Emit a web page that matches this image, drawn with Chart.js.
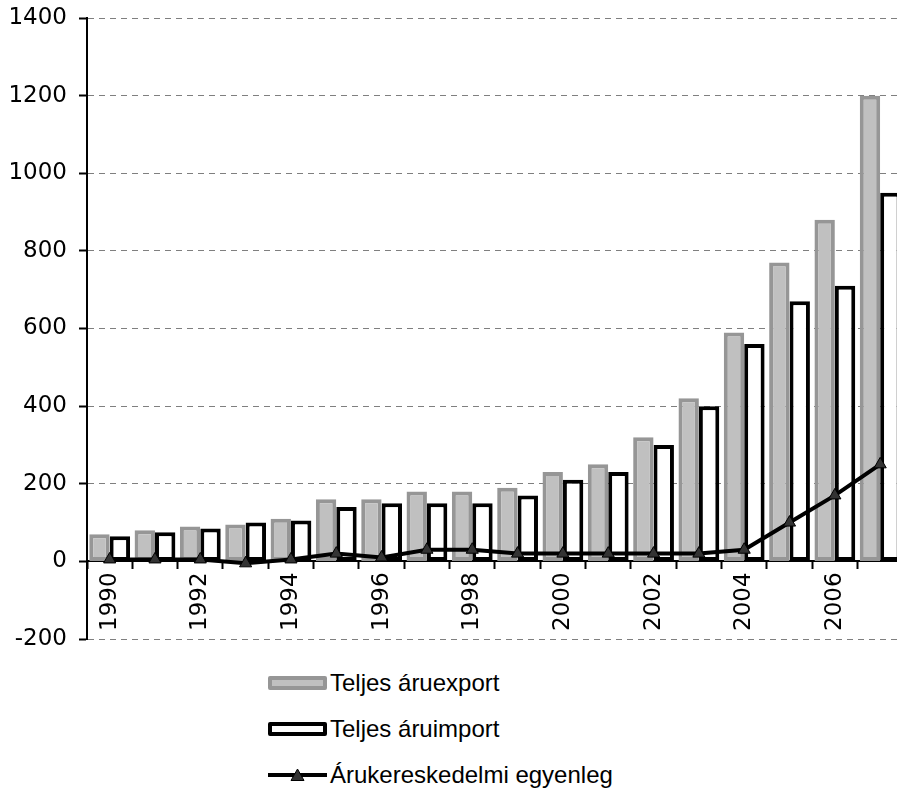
<!DOCTYPE html>
<html>
<head>
<meta charset="utf-8">
<script src="https://cdn.jsdelivr.net/npm/chart.js@4"></script>
<style>
  html, body { margin: 0; padding: 0; background: #fff; overflow: hidden; width: 897px; height: 798px; }
  #wrap { position: relative; width: 897px; height: 798px; overflow: hidden; }
  #chart { position: absolute; left: 0; top: 0; }
  #legend { position: absolute; left: 268px; top: 0; font-family: "Liberation Sans", Arial, sans-serif; font-size: 24px; color: #000; }
  .item { position: absolute; left: 0; height: 30px; display: flex; align-items: center; white-space: nowrap; }
  .swatch { width: 59px; height: 14px; box-sizing: border-box; margin-right: 3px; }
  .swatch svg { display: block; }
</style>
</head>
<body>
<div id="wrap">
  <canvas id="chart" width="912" height="650"></canvas>
  <div id="legend"></div>
</div>
<script>
const years = ['1990', '1991', '1992', '1993', '1994', '1995', '1996', '1997', '1998',
               '1999', '2000', '2001', '2002', '2003', '2004', '2005', '2006', '2007'];
const exportValues  = [70, 80, 90, 95, 110, 160, 160, 180, 180, 190, 230, 250, 320, 420, 590, 770, 880, 1200];
const importValues  = [65, 75, 85, 100, 105, 140, 150, 150, 150, 170, 210, 230, 300, 400, 560, 670, 710, 950];
const balanceValues = [5, 5, 5, -5, 5, 20, 10, 30, 30, 20, 20, 20, 20, 20, 30, 100, 170, 250];
const seriesNames = ['Teljes áruexport', 'Teljes áruimport', 'Árukereskedelmi egyenleg'];
const yTickValues = [-200, 0, 200, 400, 600, 800, 1000, 1200, 1400];

const tickFont = { family: '"DejaVu Sans", sans-serif', size: 23 };

// Axis padding is handled by layout.padding only
const noPad = (scale) => { scale.paddingTop = 0; scale.paddingBottom = 0; };

const chart = new Chart(document.getElementById('chart'), {
  type: 'bar',
  data: {
    labels: years,
    datasets: [
      {
        type: 'line',
        label: seriesNames[2],
        data: balanceValues,
        order: 0,
        borderColor: '#000',
        borderWidth: 4,
        tension: 0,
        pointStyle: 'triangle',
        pointRadius: 7,
        pointBackgroundColor: '#333',
        pointBorderColor: '#000',
        pointBorderWidth: 1
      },
      {
        label: seriesNames[0],
        data: exportValues,
        order: 1,
        backgroundColor: '#c0c0c0',
        borderColor: '#969696',
        borderWidth: 4,
        borderSkipped: false
      },
      {
        label: seriesNames[1],
        data: importValues,
        order: 2,
        backgroundColor: '#fff',
        borderColor: '#000',
        borderWidth: 4,
        borderSkipped: false
      }
    ]
  },
  options: {
    responsive: false,
    animation: false,
    devicePixelRatio: 1,
    layout: { padding: { top: 18, bottom: 11, left: 0, right: 0 } },
    datasets: {
      bar: { categoryPercentage: 0.9, barPercentage: 1.0 }
    },
    plugins: {
      legend: { display: false },
      tooltip: { enabled: false }
    },
    scales: {
      x: {
        position: { y: 0 },
        offset: true,
        afterFit: noPad,
        grid: {
          offset: true,
          drawOnChartArea: false,
          drawTicks: true,
          tickLength: 7,
          tickColor: '#000',
          tickWidth: 2
        },
        border: { display: true, color: '#000', width: 2 },
        ticks: {
          autoSkip: false,
          minRotation: 90,
          maxRotation: 90,
          padding: 4,
          color: '#000',
          font: tickFont,
          callback: (value, index) => (index % 2 === 0 ? years[index] : '')
        }
      },
      y: {
        min: yTickValues[0],
        max: yTickValues[yTickValues.length - 1],
        afterFit: (scale) => { scale.width = 87; noPad(scale); },
        afterBuildTicks: (scale) => { scale.ticks = yTickValues.map(v => ({ value: v })); },
        grid: {
          color: '#7f7f7f',
          lineWidth: 1,
          drawTicks: true,
          tickLength: 8,
          tickColor: '#000',
          tickWidth: 2,
          tickBorderDash: []
        },
        border: { display: true, color: '#000', width: 2, dash: [6, 5] },
        ticks: {
          padding: 12,
          color: '#000',
          font: tickFont,
          callback: (value) => String(value)
        }
      }
    }
  }
});

// Legend, stacked vertically below the plot
const legendEl = document.getElementById('legend');
const legendRows = [
  { ds: 1, top: 668 },
  { ds: 2, top: 714 },
  { ds: 0, top: 760 }
];
legendRows.forEach(row => {
  const ds = chart.data.datasets[row.ds];
  const item = document.createElement('div');
  item.className = 'item';
  item.style.top = row.top + 'px';
  const sw = document.createElement('div');
  sw.className = 'swatch';
  if (ds.type === 'line') {
    sw.innerHTML = '<svg width="59" height="14" viewBox="0 0 59 14">' +
      '<line x1="0" y1="7" x2="59" y2="7" stroke="#000" stroke-width="4"/>' +
      '<polygon points="29.5,1 36,12.5 23,12.5" fill="#333" stroke="#000" stroke-width="1"/></svg>';
  } else {
    sw.style.background = ds.backgroundColor;
    sw.style.border = ds.borderWidth + 'px solid ' + ds.borderColor;
    sw.style.borderRadius = '2px';
  }
  const txt = document.createElement('span');
  txt.textContent = ds.label;
  item.appendChild(sw);
  item.appendChild(txt);
  legendEl.appendChild(item);
});
</script>
</body>
</html>
